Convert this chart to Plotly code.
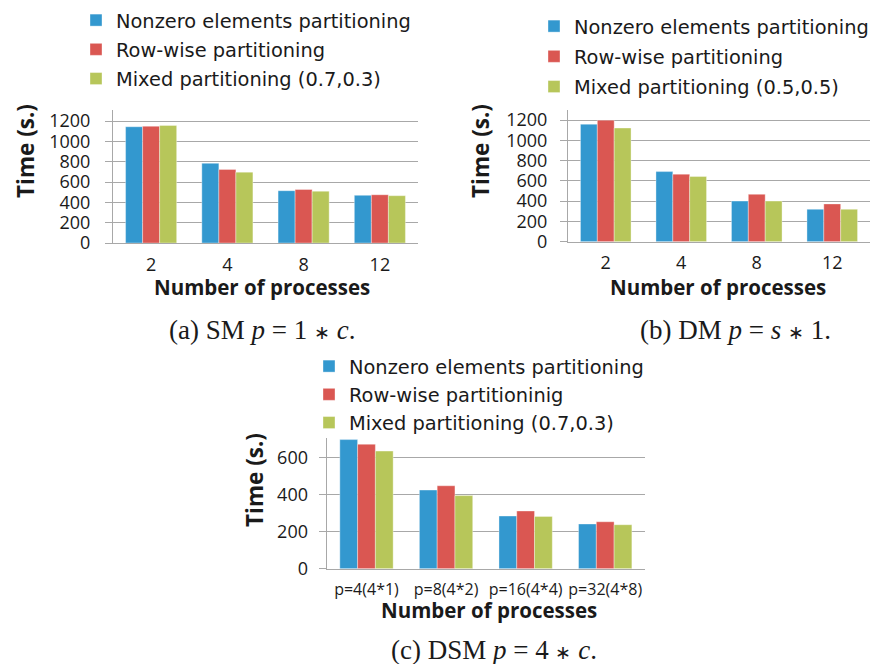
import plotly.graph_objects as go

W, H = 871, 664

categories_ab = ["2", "4", "8", "12"]
categories_c = ["p=4(4*1)", "p=8(4*2)", "p=16(4*4)", "p=32(4*8)"]

# (a) SM p = 1*c
sm_nonzero = [1145, 785, 515, 470]
sm_row = [1150, 725, 527, 475]
sm_mixed = [1158, 698, 510, 466]

# (b) DM p = s*1
dm_nonzero = [1160, 692, 401, 320]
dm_row = [1200, 667, 468, 373]
dm_mixed = [1122, 643, 401, 320]

# (c) DSM p = 4*c
dsm_nonzero = [696, 424, 284, 241]
dsm_row = [671, 447, 311, 253]
dsm_mixed = [634, 394, 282, 237]

names_a = ["Nonzero elements partitioning", "Row-wise partitioning", "Mixed partitioning (0.7,0.3)"]
names_b = ["Nonzero elements partitioning", "Row-wise partitioning", "Mixed partitioning (0.5,0.5)"]
names_c = ["Nonzero elements partitioning", "Row-wise partitioninig", "Mixed partitioning (0.7,0.3)"]

colors = ["#3398cf", "#da5752", "#b7c65a"]

FONT = "Open Sans"
LEGFONT = "DejaVu Sans"
TXT = "#1a1a1a"
GRID = "#a8a8a8"


def px(x):
    return x / W


def py(y):
    return 1 - y / H


fig = go.Figure()

panels = [
    (categories_ab, [sm_nonzero, sm_row, sm_mixed], names_a, "x", "y", "legend", "a"),
    (categories_ab, [dm_nonzero, dm_row, dm_mixed], names_b, "x2", "y2", "legend2", "b"),
    (categories_c, [dsm_nonzero, dsm_row, dsm_mixed], names_c, "x3", "y3", "legend3", "c"),
]
for cats, series, names, xa, ya, leg, tag in panels:
    for vals, nm, col in zip(series, names, colors):
        fig.add_trace(go.Bar(
            x=cats, y=vals, name=nm, xaxis=xa, yaxis=ya, legend=leg,
            legendgroup=tag + nm,
            marker=dict(color=col, line=dict(color="rgba(255,255,255,0.6)", width=0.6)),
        ))


def yax(domain, rng, standoff, anchor):
    return dict(domain=domain, range=rng, dtick=200, anchor=anchor, showgrid=True, gridcolor=GRID,
                gridwidth=1.2, showline=True, linecolor=GRID, linewidth=1.2, ticks="outside",
                ticklen=7, tickcolor=GRID, tickwidth=1.2, zeroline=False, automargin=False,
                ticklabelstandoff=standoff,
                tickfont=dict(family=FONT, size=18, color=TXT), fixedrange=True)


def xax(domain, anchor, size, standoff):
    return dict(domain=domain, anchor=anchor, showline=True, linecolor=GRID, linewidth=1.2,
                ticks="", showgrid=False, ticklabelstandoff=standoff, automargin=False,
                tickfont=dict(family=FONT, size=size, color=TXT), fixedrange=True)


fig.update_layout(
    width=W, height=H,
    margin=dict(l=0, r=0, t=0, b=0, pad=0, autoexpand=False),
    paper_bgcolor="white", plot_bgcolor="white",
    barmode="group", bargap=0.33, bargroupgap=0,
    showlegend=True,
    xaxis=xax([px(113), px(418)], "y", 18, 5),
    yaxis=yax([py(243), py(110)], [0, 1310], 11, "x"),
    xaxis2=xax([px(568), px(870)], "y2", 18, 5),
    yaxis2=yax([py(241.7), py(110)], [0, 1300], 9, "x2"),
    xaxis3=xax([px(326.7), px(645)], "y3", 16, 6),
    yaxis3=yax([py(568.7), py(438.3)], [0, 703], 7, "x3"),
)

leg_common = dict(xanchor="left", yanchor="top", bgcolor="rgba(0,0,0,0)",
                  font=dict(family=LEGFONT, size=19.4, color=TXT), itemwidth=30,
                  traceorder="grouped", borderwidth=0)
fig.update_layout(
    legend=dict(leg_common, x=px(76), y=py(1), tracegroupgap=1),
    legend2=dict(leg_common, x=px(534), y=py(7), tracegroupgap=2),
    legend3=dict(leg_common, x=px(309), y=py(347), tracegroupgap=0),
)

annotations = []
# y-axis titles
for x, y in [(26, 151), (481, 151), (254, 480)]:
    annotations.append(dict(text="<b>Time (s.)</b>", x=px(x), y=py(y), xref="paper", yref="paper",
                            xanchor="center", yanchor="middle",
                            showarrow=False, textangle=-90,
                            font=dict(family=FONT, size=22.5, color=TXT)))
# x-axis titles
for x, y in [(262, 287), (718, 287), (489, 610)]:
    annotations.append(dict(text="<b>Number of processes</b>", x=px(x), y=py(y), xref="paper",
                            yref="paper", xanchor="center", yanchor="middle",
                            showarrow=False, font=dict(family=FONT, size=20.5, color=TXT)))
# captions
AST = "<span style='font-size:19px'>∗</span>"
caps = [
    ("(a) SM <i>p</i> = 1 " + AST + " <i>c</i>.", 262, 330),
    ("(b) DM <i>p</i> = <i>s</i> " + AST + " 1.", 735, 330),
    ("(c) DSM <i>p</i> = 4 " + AST + " <i>c</i>.", 494, 650),
]
for t, x, y in caps:
    annotations.append(dict(text=t, x=px(x), y=py(y), xref="paper", yref="paper", showarrow=False,
                            xanchor="center", yanchor="middle",
                            font=dict(family="Liberation Serif", size=27, color=TXT)))
fig.update_layout(annotations=annotations)

fig.write_html("out.html", config={"displayModeBar": False, "responsive": False},
               post_script="document.body.style.margin='0';")
